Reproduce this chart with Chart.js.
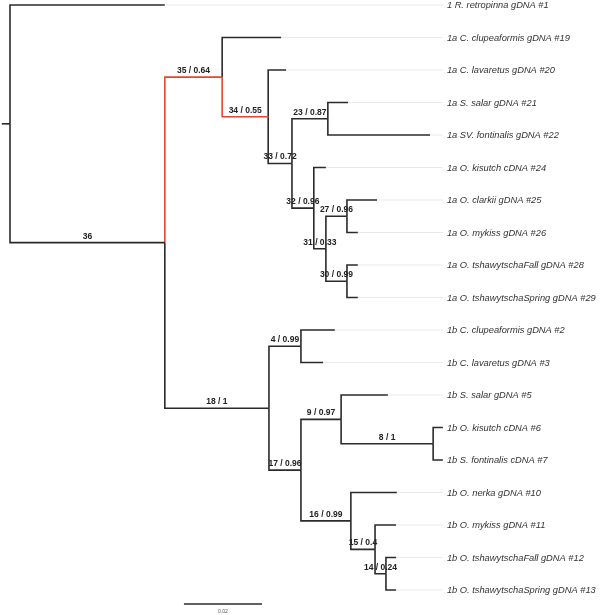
<!DOCTYPE html>
<html>
<head>
<meta charset="utf-8">
<script src="https://cdn.jsdelivr.net/npm/chart.js@4"></script>
<style>
  body { margin: 0; background: #fff; }
  canvas { display: block; }
</style>
</head>
<body>
<canvas id="tree" width="600" height="615"></canvas>
<script>
// tips, top to bottom
const tipNames = [
  "1 R. retropinna gDNA #1",
  "1a C. clupeaformis gDNA #19",
  "1a C. lavaretus gDNA #20",
  "1a S. salar gDNA #21",
  "1a SV. fontinalis gDNA #22",
  "1a O. kisutch cDNA #24",
  "1a O. clarkii gDNA #25",
  "1a O. mykiss gDNA #26",
  "1a O. tshawytschaFall gDNA #28",
  "1a O. tshawytschaSpring gDNA #29",
  "1b C. clupeaformis gDNA #2",
  "1b C. lavaretus gDNA #3",
  "1b S. salar gDNA #5",
  "1b O. kisutch cDNA #6",
  "1b S. fontinalis cDNA #7",
  "1b O. nerka gDNA #10",
  "1b O. mykiss gDNA #11",
  "1b O. tshawytschaFall gDNA #12",
  "1b O. tshawytschaSpring gDNA #13"
];
const tipParent = ["root", "n35", "n34", "n23", "n23", "n32", "n27", "n27", "n30", "n30",
  "n4", "n4", "n9", "n8", "n8", "n16", "n15", "n14", "n14"];
const tipDepth = [0.0397, 0.0695, 0.0708, 0.0867, 0.1077, 0.0810, 0.0941, 0.0892, 0.0892, 0.0892,
  0.0833, 0.0803, 0.0969, 0.1110, 0.1110, 0.0992, 0.0990, 0.0990, 0.0990];

// internal nodes
const nodeIds = ["root", "n36", "n35", "n34", "n33", "n23", "n32", "n31", "n27", "n30",
  "n18", "n4", "n17", "n9", "n8", "n16", "n15", "n14"];
const nodeParent = [null, "root", "n36", "n35", "n34", "n33", "n33", "n32", "n31", "n31",
  "n36", "n18", "n18", "n17", "n9", "n17", "n16", "n15"];
const nodeDepth = [0, 0.0397, 0.0544, 0.0662, 0.0723, 0.0815, 0.0779, 0.0810, 0.0864, 0.0864,
  0.0664, 0.0746, 0.0746, 0.0849, 0.1085, 0.0874, 0.0936, 0.0964];
const nodeLabels = ["", "36", "35 / 0.64", "34 / 0.55", "33 / 0.72", "23 / 0.87", "32 / 0.96",
  "31 / 0.33", "27 / 0.96", "30 / 0.99", "18 / 1", "4 / 0.99", "17 / 0.96", "9 / 0.97",
  "8 / 1", "16 / 0.99", "15 / 0.4", "14 / 0.24"];
const highlighted = ["n35", "n34"];

const rootStub = -0.0021;
const scaleBarLength = 0.02;
const scaleBarStart = 0.0446;

// y positions: tips are 0..n-1, internal nodes sit midway between their outer children
const children = {};
nodeIds.forEach(id => children[id] = []);
tipParent.forEach((p, i) => children[p].push({ tip: i }));
nodeParent.forEach((p, i) => { if (p) children[p].push({ node: i }); });

const nodeY = {};
function yOf(c) { return c.tip !== undefined ? c.tip : calcY(nodeIds[c.node]); }
function calcY(id) {
  if (nodeY[id] !== undefined) return nodeY[id];
  const ys = children[id].map(yOf);
  nodeY[id] = (Math.min(...ys) + Math.max(...ys)) / 2;
  return nodeY[id];
}
nodeIds.forEach(calcY);
const depthOf = id => nodeDepth[nodeIds.indexOf(id)];

const alignDepth = Math.max(...tipDepth);
const ink = "#2b2b2b";
const red = "#e8452c";

const datasets = [];
function seg(points, color, width) {
  datasets.push({
    data: points, showLine: true, pointRadius: 0, borderColor: color,
    borderWidth: width, borderCapStyle: "butt", borderJoinStyle: "miter", fill: false
  });
}

// faint guide lines from tips to labels
tipNames.forEach((n, i) => seg([{ x: tipDepth[i], y: i }, { x: alignDepth, y: i }], "#e3e3e3", 0.8));

// root stub
seg([{ x: rootStub, y: nodeY.root }, { x: 0, y: nodeY.root }], ink, 1.6);

// elbows for internal nodes
nodeIds.forEach((id, i) => {
  const p = nodeParent[i];
  if (!p) return;
  const col = highlighted.includes(id) ? red : ink;
  seg([{ x: depthOf(p), y: nodeY[p] }, { x: depthOf(p), y: nodeY[id] }, { x: nodeDepth[i], y: nodeY[id] }], col, 1.6);
});

// elbows for tips
tipNames.forEach((n, i) => {
  const p = tipParent[i];
  seg([{ x: depthOf(p), y: nodeY[p] }, { x: depthOf(p), y: i }, { x: tipDepth[i], y: i }], ink, 1.6);
});

// scale bar
const barY = 18.43;
seg([{ x: scaleBarStart, y: barY }, { x: scaleBarStart + scaleBarLength, y: barY }], ink, 1.6);

const textPlugin = {
  id: "treeText",
  afterDatasetsDraw(chart) {
    const ctx = chart.ctx, xs = chart.scales.x, ys = chart.scales.y;
    ctx.save();
    // tip labels
    ctx.font = "italic 9.3px 'Liberation Sans', Arial, sans-serif";
    ctx.fillStyle = "#333";
    ctx.textAlign = "left";
    ctx.textBaseline = "middle";
    tipNames.forEach((n, i) => {
      ctx.fillText(n, xs.getPixelForValue(alignDepth) + 4, ys.getPixelForValue(i) + 0.5);
    });
    // branch labels
    ctx.font = "bold 8.5px 'Liberation Sans', Arial, sans-serif";
    ctx.fillStyle = "#222";
    ctx.textAlign = "center";
    ctx.textBaseline = "alphabetic";
    nodeIds.forEach((id, i) => {
      if (!nodeLabels[i]) return;
      const p = nodeParent[i];
      const mid = (depthOf(p) + nodeDepth[i]) / 2;
      ctx.fillText(nodeLabels[i], xs.getPixelForValue(mid), ys.getPixelForValue(nodeY[id]) - 4);
    });
    // scale label
    ctx.font = "5px 'Liberation Sans', Arial, sans-serif";
    ctx.fillStyle = "#555";
    ctx.fillText(String(scaleBarLength), xs.getPixelForValue(scaleBarStart + scaleBarLength / 2), ys.getPixelForValue(barY) + 9);
    ctx.restore();
  }
};

new Chart(document.getElementById("tree").getContext("2d"), {
  type: "scatter",
  data: { datasets: datasets },
  options: {
    responsive: false,
    animation: false,
    events: [],
    layout: { padding: 0 },
    plugins: { legend: { display: false }, tooltip: { enabled: false } },
    scales: {
      x: { type: "linear", display: false, min: -0.002564, max: 0.151282 },
      y: { type: "linear", display: false, reverse: true, min: -0.154, max: 18.77 }
    }
  },
  plugins: [textPlugin]
});
</script>
</body>
</html>
